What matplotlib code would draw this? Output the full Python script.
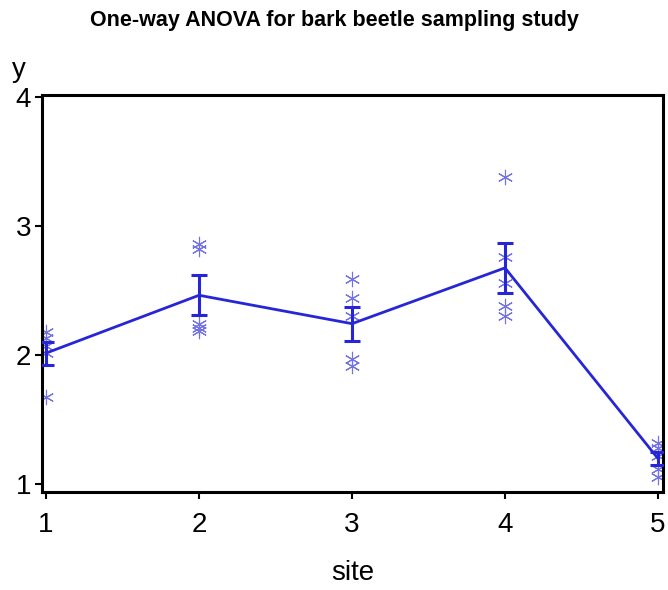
import numpy as np
import matplotlib
matplotlib.use("Agg")
import matplotlib.pyplot as plt

plt.rcParams["font.family"] = ["Liberation Sans", "DejaVu Sans"]

# bark beetle counts (transformed) per sampling site
sites = [1, 2, 3, 4, 5]
site1 = [1.68, 2.02, 2.07, 2.13, 2.18]
site2 = [2.19, 2.21, 2.24, 2.82, 2.86]
site3 = [1.92, 1.97, 2.30, 2.44, 2.59]
site4 = [2.30, 2.38, 2.56, 2.76, 3.38]
site5 = [1.06, 1.12, 1.22, 1.28, 1.32]
groups = [site1, site2, site3, site4, site5]

means = [np.mean(g) for g in groups]
se = [np.std(g, ddof=1) / np.sqrt(len(g)) for g in groups]

fig = plt.figure(figsize=(6.68, 5.9), dpi=100)
ax = fig.add_axes([0.063, 0.166, 0.9295, 0.673])

# raw observations as asterisks
for s, g in zip(sites, groups):
    ax.plot([s] * len(g), g, linestyle="none", marker=(6, 2, 0), markersize=11,
            markeredgewidth=0.8, color="#7272e4", zorder=2)

# group means joined by a line, with +/- 1 SE bars
ax.plot(sites, means, color="#2626d6", linewidth=2.0, zorder=3)
ax.errorbar(sites, means, yerr=se, fmt="none", ecolor="#2626d6", elinewidth=2.2,
            capsize=6, capthick=2.2, zorder=3)

ax.set_xlim(0.974, 5.033)
ax.set_ylim(0.94, 4.015)
ax.set_xticks(sites)
ax.set_yticks([1, 2, 3, 4])
ax.tick_params(direction="out", length=5, width=1.5, labelsize=20)
ax.tick_params(axis="x", pad=9)
ax.tick_params(axis="y", pad=3)
for sp in ax.spines.values():
    sp.set_linewidth(2.2)

ax.set_xlabel("site", fontsize=20, labelpad=16)
fig.text(0.028, 0.86, "y", fontsize=20, ha="center", va="bottom")
fig.text(0.5, 0.966, "One-way ANOVA for bark beetle sampling study", fontsize=15.5,
         fontweight="bold", ha="center", va="center")

fig.savefig("out.png", dpi=100)
